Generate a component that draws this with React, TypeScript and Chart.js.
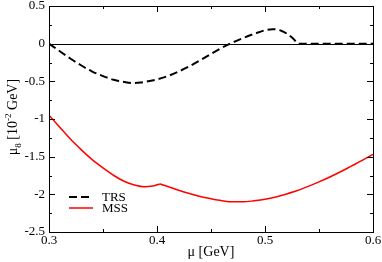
import React, { useEffect, useRef } from "react";
import { Chart, registerables } from "chart.js";

Chart.register(...registerables);

// ---- data ----
const trsX = [0.3, 0.31, 0.32, 0.33, 0.34, 0.35, 0.36, 0.37, 0.377, 0.385, 0.39, 0.4, 0.41, 0.42, 0.43, 0.44, 0.45, 0.46, 0.47, 0.48, 0.49, 0.5, 0.507, 0.515, 0.52, 0.526, 0.531, 0.55, 0.6];
const trsY = [0, -0.1, -0.2, -0.29, -0.37, -0.43, -0.48, -0.51, -0.522, -0.515, -0.505, -0.475, -0.43, -0.37, -0.3, -0.22, -0.135, -0.055, 0.015, 0.075, 0.13, 0.178, 0.193, 0.172, 0.135, 0.07, 0.0, 0.0, 0.0];

const mssX = [0.3, 0.31, 0.32, 0.33, 0.34, 0.35, 0.36, 0.37, 0.38, 0.388, 0.396, 0.401, 0.403, 0.405, 0.41, 0.42, 0.43, 0.44, 0.45, 0.46, 0.47, 0.48, 0.49, 0.5, 0.51, 0.52, 0.53, 0.54, 0.55, 0.56, 0.57, 0.58, 0.59, 0.6];
const mssY = [-0.95, -1.11, -1.27, -1.41, -1.54, -1.65, -1.75, -1.83, -1.88, -1.9, -1.89, -1.87, -1.864, -1.872, -1.895, -1.945, -1.99, -2.03, -2.06, -2.085, -2.1, -2.1, -2.085, -2.065, -2.035, -1.995, -1.95, -1.895, -1.835, -1.77, -1.7, -1.625, -1.55, -1.47];

const seriesNames = ["TRS", "MSS"];
const xTickValues = [0.3, 0.4, 0.5, 0.6];
const xTickLabels = ["0.3", "0.4", "0.5", "0.6"];
const xMinorValues = [0.35, 0.45, 0.55];
const yTickValues = [0.5, 0, -0.5, -1, -1.5, -2, -2.5];
const yTickLabels = ["0.5", "0", "-0.5", "-1", "-1.5", "-2", "-2.5"];
const yMinorValues = [0.25, -0.25, -0.75, -1.25, -1.75, -2.25];
const xTitle = "\u03bc [GeV]";

const FONT = '"Liberation Serif", "Times New Roman", serif';

const framePlugin = {
  id: "frame",
  beforeDatasetsDraw(chart: any) {
    const { ctx, chartArea: a, scales } = chart;
    const y0 = scales.y.getPixelForValue(0);
    ctx.save();
    ctx.strokeStyle = "#000";
    ctx.lineWidth = 1;
    ctx.beginPath();
    ctx.moveTo(a.left, Math.round(y0) + 0.5);
    ctx.lineTo(a.right, Math.round(y0) + 0.5);
    ctx.stroke();
    ctx.restore();
  },
  afterDraw(chart: any) {
    const { ctx, chartArea: a, scales } = chart;
    ctx.save();
    ctx.strokeStyle = "#000";
    ctx.lineWidth = 1;
    // border
    ctx.strokeRect(Math.round(a.left) + 0.5, Math.round(a.top) + 0.5, Math.round(a.right - a.left), Math.round(a.bottom - a.top));
    // ticks
    const major = 6, minor = 3;
    const xt = (v: number, len: number) => {
      const px = Math.round(scales.x.getPixelForValue(v)) + 0.5;
      ctx.beginPath();
      ctx.moveTo(px, a.bottom);
      ctx.lineTo(px, a.bottom - len);
      ctx.moveTo(px, a.top);
      ctx.lineTo(px, a.top + len);
      ctx.stroke();
    };
    const yt = (v: number, len: number) => {
      const py = Math.round(scales.y.getPixelForValue(v)) + 0.5;
      ctx.beginPath();
      ctx.moveTo(a.left, py);
      ctx.lineTo(a.left + len, py);
      ctx.moveTo(a.right, py);
      ctx.lineTo(a.right - len, py);
      ctx.stroke();
    };
    xTickValues.forEach((v) => xt(v, major));
    xMinorValues.forEach((v) => xt(v, minor));
    yTickValues.forEach((v) => yt(v, major));
    yMinorValues.forEach((v) => yt(v, minor));

    // legend
    const ds = chart.data.datasets;
    const lx = a.left + 20, ly = a.top + 191;
    ctx.font = "13px " + FONT;
    ctx.textBaseline = "middle";
    ctx.textAlign = "left";
    ds.forEach((d: any, i: number) => {
      const yy = ly + i * 11;
      ctx.save();
      ctx.strokeStyle = d.borderColor;
      ctx.lineWidth = d.borderWidth;
      ctx.setLineDash(d.borderDash || []);
      ctx.beginPath();
      ctx.moveTo(lx, yy);
      ctx.lineTo(lx + 24, yy);
      ctx.stroke();
      ctx.restore();
      ctx.fillStyle = "#000";
      ctx.fillText(d.label, lx + 33, yy + 1);
    });

    // x title
    ctx.font = "14px " + FONT;
    ctx.textAlign = "center";
    ctx.textBaseline = "alphabetic";
    ctx.fillStyle = "#000";
    ctx.fillText(xTitle, (a.left + a.right) / 2, 256);

    // y title with sub/superscripts
    const parts = [
      { t: "\u03bc", size: 14, dy: 0 },
      { t: "8", size: 9, dy: 4 },
      { t: " [10", size: 14, dy: 0 },
      { t: "-2", size: 9, dy: -6 },
      { t: " GeV]", size: 14, dy: 0 },
    ];
    let total = 0;
    const widths = parts.map((p) => {
      ctx.font = p.size + "px " + FONT;
      const w = ctx.measureText(p.t).width;
      total += w;
      return w;
    });
    ctx.translate(17, (a.top + a.bottom) / 2 - 2);
    ctx.rotate(-Math.PI / 2);
    ctx.textAlign = "left";
    let cx = -total / 2;
    parts.forEach((p, i) => {
      ctx.font = p.size + "px " + FONT;
      ctx.fillText(p.t, cx, p.dy);
      cx += widths[i];
    });
    ctx.restore();
  },
};

export default function App() {
  const ref = useRef<HTMLCanvasElement>(null);
  useEffect(() => {
    if (!ref.current) return;
    const chart = new Chart(ref.current, {
      type: "line",
      data: {
        datasets: [
          {
            label: seriesNames[0],
            data: trsX.map((x, i) => ({ x, y: trsY[i] })),
            borderColor: "#000000",
            borderWidth: 2,
            borderDash: [8, 4],
            pointRadius: 0,
            cubicInterpolationMode: "monotone",
            fill: false,
          },
          {
            label: seriesNames[1],
            data: mssX.map((x, i) => ({ x, y: mssY[i] })),
            borderColor: "#ff0000",
            borderWidth: 1.5,
            pointRadius: 0,
            cubicInterpolationMode: "monotone",
            fill: false,
          },
        ],
      },
      plugins: [framePlugin],
      options: {
        animation: false,
        responsive: false,
        maintainAspectRatio: false,
        layout: { padding: { top: 6, right: 9, left: 0, bottom: 0 } },
        plugins: { legend: { display: false }, tooltip: { enabled: false } },
        scales: {
          x: {
            type: "linear",
            min: 0.3,
            max: 0.6,
            grid: { display: false, drawTicks: false },
            border: { display: false },
            afterBuildTicks: (s: any) => {
              s.ticks = xTickValues.map((v) => ({ value: v }));
            },
            afterFit: (s: any) => {
              s.height = 30;
              s.paddingLeft = 0;
              s.paddingRight = 0;
            },
            ticks: {
              autoSkip: false,
              maxRotation: 0,
              padding: 1,
              color: "#000",
              font: { family: FONT, size: 13 },
              callback: (v: any) => {
                const i = xTickValues.findIndex((t) => Math.abs(t - v) < 1e-9);
                return i >= 0 ? xTickLabels[i] : "";
              },
            },
          },
          y: {
            type: "linear",
            min: -2.5,
            max: 0.5,
            grid: { display: false, drawTicks: false },
            border: { display: false },
            afterBuildTicks: (s: any) => {
              s.ticks = yTickValues.map((v) => ({ value: v }));
            },
            afterFit: (s: any) => {
              s.width = 49;
              s.paddingTop = 0;
              s.paddingBottom = 0;
            },
            ticks: {
              autoSkip: false,
              padding: 4,
              color: "#000",
              font: { family: FONT, size: 13 },
              callback: (v: any) => {
                const i = yTickValues.findIndex((t) => Math.abs(t - v) < 1e-9);
                return i >= 0 ? yTickLabels[i] : "";
              },
            },
          },
        },
      },
    } as any);
    return () => chart.destroy();
  }, []);
  return (
    <div style={{ position: "fixed", left: 0, top: 0, width: 382, height: 262, background: "#fff" }}>
      <canvas ref={ref} width={382} height={262} style={{ width: 382, height: 262, display: "block" }} />
    </div>
  );
}
